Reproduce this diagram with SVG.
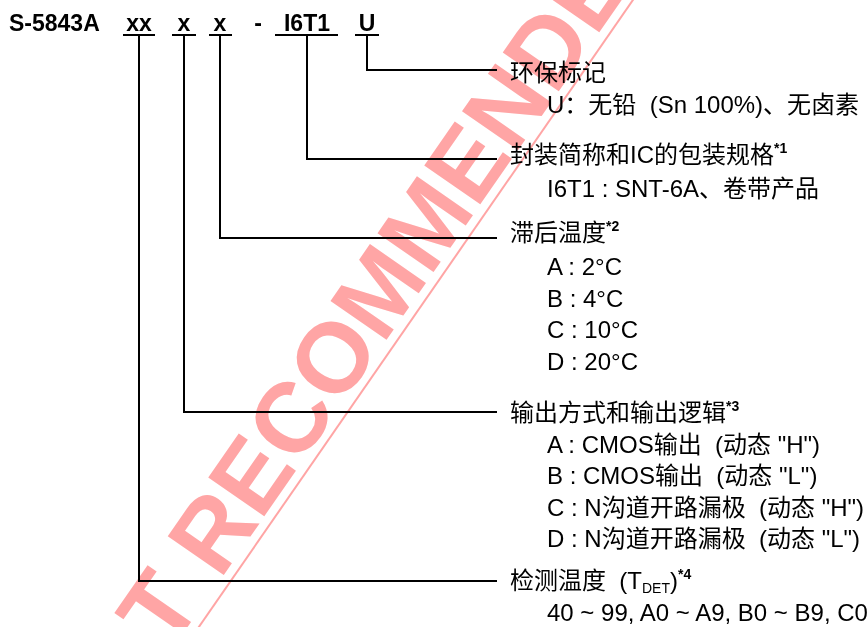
<svg xmlns="http://www.w3.org/2000/svg" width="868" height="627" viewBox="0 0 868 627">
<style>
text{font-family:'Liberation Sans','Noto Sans CJK SC',sans-serif;fill:#000}
.hd{font-size:23px;font-weight:bold}
.t{font-size:24px}
.sup{font-size:14px;font-weight:bold}
.sub{font-size:14px}
.ln{stroke:#000;stroke-width:2;fill:none}
.wm{font-family:'Liberation Sans',sans-serif;font-size:99px;font-weight:bold;fill:#ffa5a5}
</style>
<rect width="868" height="627" fill="#fff"/>
<g id="code">
<text class="hd" x="9" y="31">S-5843A</text>
<text class="hd" x="139" y="31" text-anchor="middle">xx</text>
<text class="hd" x="184" y="31" text-anchor="middle">x</text>
<text class="hd" x="220" y="31" text-anchor="middle">x</text>
<text class="hd" x="258" y="31" text-anchor="middle">-</text>
<text class="hd" x="307" y="31" text-anchor="middle">I6T1</text>
<text class="hd" x="367" y="31" text-anchor="middle">U</text>
</g>
<g id="connectors" class="ln">
<path d="M123 35H155M172 35H196M209 35H232M275 35H338M355 35H379"/>
<path d="M367 35V70H497"/>
<path d="M307 35V159H497"/>
<path d="M220 35V238H497"/>
<path d="M184 35V412H497"/>
<path d="M139 35V581H497"/>
</g>
<g id="env">
<text class="t" x="510" y="81">环保标记</text>
<text class="t" x="547" y="113">U：无铅&#160; (Sn 100%)、无卤素</text>
</g>
<g id="package">
<text class="t" x="510" y="163">封装简称和IC的包装规格<tspan class="sup" dy="-10">*1</tspan></text>
<text class="t" x="547" y="197">I6T1 : SNT-6A、卷带产品</text>
</g>
<g id="hysteresis">
<text class="t" x="510" y="241">滞后温度<tspan class="sup" dy="-10">*2</tspan></text>
<text class="t" x="547" y="275">A : 2°C</text>
<text class="t" x="547" y="307">B : 4°C</text>
<text class="t" x="547" y="338">C : 10°C</text>
<text class="t" x="547" y="370">D : 20°C</text>
</g>
<g id="output">
<text class="t" x="510" y="421">输出方式和输出逻辑<tspan class="sup" dy="-10">*3</tspan></text>
<text class="t" x="547" y="453">A : CMOS输出&#160; (动态 "H")</text>
<text class="t" x="547" y="484">B : CMOS输出&#160; (动态 "L")</text>
<text class="t" x="547" y="516">C : N沟道开路漏极&#160; (动态 "H")</text>
<text class="t" x="547" y="547">D : N沟道开路漏极&#160; (动态 "L")</text>
</g>
<g id="detect">
<text class="t" x="510" y="589">检测温度&#160; (T<tspan class="sub" dy="4">DET</tspan><tspan dy="-4">)</tspan><tspan class="sup" dy="-10">*4</tspan></text>
<text class="t" x="547" y="621">40 ~ 99, A0 ~ A9, B0 ~ B9, C0</text>
</g>
<g id="watermark" style="mix-blend-mode:multiply">
<text class="wm" transform="translate(169.8,652.8) rotate(-55.3)">T RECOMMENDE</text>
<line x1="149" y1="699" x2="644" y2="-16" stroke="#ffa5a5" stroke-width="2"/>
</g>
</svg>
